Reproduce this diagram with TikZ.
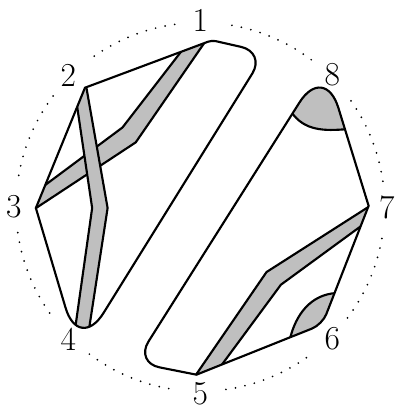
\documentclass[tikz,border=0pt]{standalone}
\usepackage{tikz}

\begin{document}
\begin{tikzpicture}[outline/.style={line width=1.1pt}, band/.style={fill=gray!50, draw=black, line width=1.1pt}, dots/.style={line width=1pt, line cap=round, dash pattern=on 0pt off 5pt}, lbl/.style={font=\LARGE}]
\useasboundingbox (-3.63,-3.68) rectangle (3.55,3.75);
% corners of the left region
\coordinate (p1) at (0.21,3.02);
\coordinate (p2) at (-2.09,2.16);
\coordinate (p3) at (-2.98,-0.02);
\coordinate (p4) at (-2.2,-2.64);
\coordinate (pb) at (1.18,2.80);
% corners of the right region
\coordinate (p5) at (-0.07,-3.04);
\coordinate (pc) at (-1.18,-2.82);
\coordinate (p8) at (2.25,2.61);
\coordinate (p7) at (3.05,0.02);
\coordinate (p6) at (2.21,-2.13);
% ends of the two caps
\coordinate (c8a) at (1.65,1.72);
\coordinate (c8b) at (2.66,1.41);
\coordinate (c6a) at (1.62,-2.41);
\coordinate (c6b) at (2.47,-1.56);

\path[save path=\leftshape] (p2) -- (p3) [rounded corners=0.85cm] -- (p4) [rounded corners=0.45cm] -- (pb) [rounded corners=2pt] -- (p1) [sharp corners] -- cycle;
\path[save path=\rightshape] (p7) [rounded corners=0.2cm] -- (p6) [sharp corners] -- (p5) [rounded corners=0.45cm] -- (pc) [rounded corners=0.85cm] -- (p8) [sharp corners] -- cycle;

\begin{scope}
\clip[use path=\leftshape];
\filldraw[band] (-0.05,3.20) -- (-1.41,1.44) -- (-3.25,0.07) -- (-3.25,-0.20) -- (-1.17,1.17) -- (0.23,3.20) -- cycle;
\filldraw[band] (-2.33,2.48) -- (-1.96,-0.02) -- (-2.30,-2.43) -- (-2.05,-2.43) -- (-1.68,-0.02) -- (-2.12,2.48) -- cycle;
\end{scope}
\begin{scope}
\clip[use path=\rightshape];
\filldraw[band] (-0.27,-3.32) -- (1.20,-1.18) -- (3.36,0.20) -- (3.36,-0.02) -- (1.46,-1.41) -- (0.05,-3.32) -- cycle;
\filldraw[band] (c8a) to[out=-56, in=185] (c8b) -- (3.3,3.3) -- (1.2,3.3) -- cycle;
\filldraw[band] (c6a) to[out=77, in=183] (c6b) -- (3.2,-3.0) -- cycle;
\end{scope}
\draw[outline, use path=\leftshape];
\draw[outline, use path=\rightshape];

% dotted circle and labels
\foreach \a in {0,45,...,315}
  \draw[dots] ({\a+8}:3.34) arc[start angle=\a+8, end angle=\a+37, radius=3.34];
\foreach \i in {1,...,8}
  \node[lbl] (n\i) at ({45*\i+45}:3.38) {\i};
\end{tikzpicture}
\end{document}
